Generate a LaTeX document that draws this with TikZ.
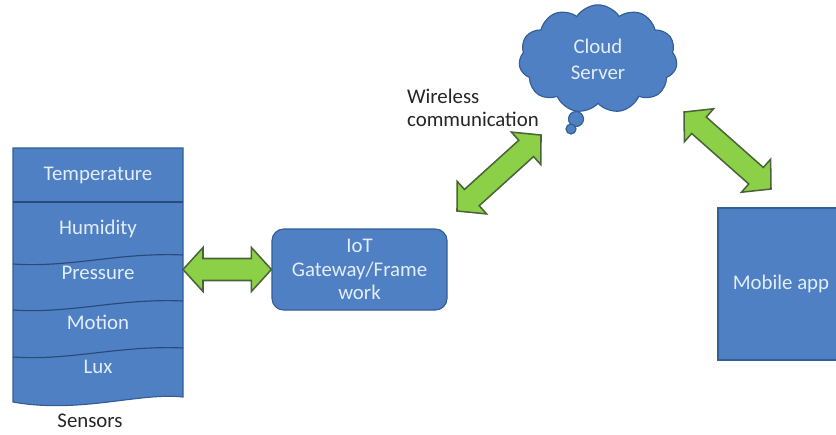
\documentclass[tikz,border=0pt]{standalone}
\usepackage{fontspec}
\setmainfont{Carlito}
\usetikzlibrary{calc,shapes.symbols}

\definecolor{boxblue}{HTML}{4F80C4}
\definecolor{edgeblue}{HTML}{345E96}
\definecolor{labelblue}{HTML}{E2EDF8}
\definecolor{arrowgreen}{HTML}{8CD048}
\definecolor{arrowedge}{HTML}{4A6339}
\definecolor{plaintext}{HTML}{262626}

\tikzset{
  block/.style={draw=edgeblue, fill=boxblue, line width=1pt, text=labelblue, align=center},
  divider/.style={draw=edgeblue!80!black, line width=1pt},
  sensorlabel/.style={text=labelblue},
  caption/.style={text=plaintext, align=left},
  fatarrow/.style={draw=arrowedge, fill=arrowgreen, line width=1.3pt, line join=miter},
}

% fat double arrow between two named points
\newcommand{\fatarrow}[2]{%
  \draw[fatarrow] (#1)
    -- ($(#1)!0.6cm!(#2)!0.66cm!90:(#2)$)
    -- ($(#1)!0.6cm!(#2)!0.33cm!90:(#2)$)
    -- ($(#2)!0.6cm!(#1)!0.33cm!-90:(#1)$)
    -- ($(#2)!0.6cm!(#1)!0.66cm!-90:(#1)$)
    -- (#2)
    -- ($(#2)!0.6cm!(#1)!0.66cm!90:(#1)$)
    -- ($(#2)!0.6cm!(#1)!0.33cm!90:(#1)$)
    -- ($(#1)!0.6cm!(#2)!0.33cm!-90:(#2)$)
    -- ($(#1)!0.6cm!(#2)!0.66cm!-90:(#2)$)
    -- cycle;}

\begin{document}
\begin{tikzpicture}[x=0.03cm, y=-0.03cm, font=\fontsize{17.8}{20}\selectfont]
\clip (0,0) rectangle (836,434);

% sensor stack
\draw[block] (13,148) -- (183,148) -- (183,397)
  .. controls (140,392) and (80,414) .. (13,402) -- cycle;
\draw[divider] (13,202) -- (183,202);
\draw[divider] (13,264) .. controls (70,268) and (120,252) .. (183,255);
\draw[divider] (13,310) .. controls (70,314) and (120,298) .. (183,301);
\draw[divider] (13,357) .. controls (70,361) and (120,345) .. (183,348);
\node[sensorlabel] (temp) at (98,175) {Temperature};
\node[sensorlabel] (hum) at (98,229) {Humidity};
\node[sensorlabel] (press) at (98,273) {Pressure};
\node[sensorlabel] (motion) at (98,322) {Motion};
\node[sensorlabel] (lux) at (98,367) {Lux};
\node[caption] (sensors) at (90,421) {Sensors};

% gateway, cloud, app
\node[block, rounded corners=10pt, minimum width=5.25cm, minimum height=2.43cm] (iot) at (359.5,269.5) {IoT\\Gateway/Frame\\work};
\node[block, cloud, cloud puffs=11, cloud puff arc=115, aspect=1.5, minimum width=4.75cm, minimum height=3.25cm, font=\fontsize{17.8}{22}\selectfont] (cloud) at (598,59) {Cloud\\Server};
\node[block, circle, minimum size=0.45cm, inner sep=0pt] (puff1) at (576,119) {};
\node[block, circle, minimum size=0.3cm, inner sep=0pt] (puff2) at (571,129) {};
\node[block, minimum width=3.78cm, minimum height=4.56cm] (mobile) at (781,284) {Mobile app};
\node[caption, anchor=west] (wireless) at (403,108) {Wireless\\communication};

% arrows
\coordinate (sensout) at (183,269.5);
\coordinate (wl) at (457,211);
\coordinate (wc) at (541,135);
\coordinate (ml) at (684,112);
\coordinate (mr) at (771,189);
\fatarrow{sensout}{iot.west}
\fatarrow{wl}{wc}
\fatarrow{ml}{mr}
\end{tikzpicture}
\end{document}
